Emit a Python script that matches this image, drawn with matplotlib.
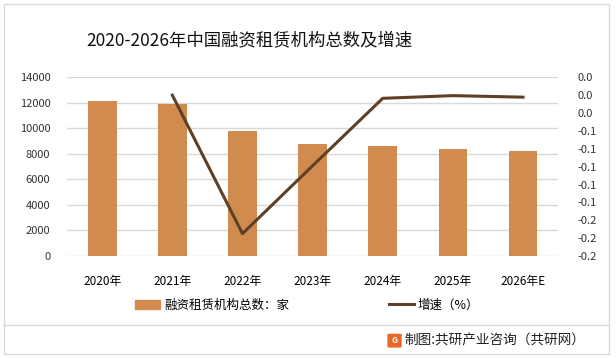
import numpy as np
import matplotlib.pyplot as plt
from matplotlib.patches import Rectangle, FancyBboxPatch
from matplotlib.lines import Line2D
from matplotlib.ticker import FuncFormatter, MultipleLocator

plt.rcParams['font.family'] = ['Noto Sans CJK SC', 'DejaVu Sans']

years = ["2020年", "2021年", "2022年", "2023年", "2024年", "2025年", "2026年E"]
counts = [12140, 11930, 9790, 8780, 8620, 8385, 8225]
growth = [None, -0.020, -0.175, -0.099, -0.0235, -0.0205, -0.0222]

bar_color = "#D28B4E"
line_color = "#5E4028"
grid_color = "#D9D9D9"

fig = plt.figure(figsize=(6.16, 3.58), dpi=100)
ax = fig.add_axes([0.109, 0.285, 0.797, 0.499])

x = np.arange(len(years))
ax.bar(x, counts, width=0.41, color=bar_color, zorder=2)
ax.set_xlim(-0.5, len(years) - 0.5)
ax.set_ylim(0, 14000)
ax.yaxis.set_major_locator(MultipleLocator(2000))
ax.grid(axis="y", color=grid_color, linewidth=1, zorder=0)
ax.set_xticks(x)
ax.set_xticklabels(years, fontsize=8.5)
ax.tick_params(axis="x", length=0, pad=14)
ax.tick_params(axis="y", length=0, pad=12, labelsize=8, labelcolor="#333333")
for s in ax.spines.values():
    s.set_visible(False)

ax2 = ax.twinx()
gx = [i for i, g in enumerate(growth) if g is not None]
gy = [g for g in growth if g is not None]
ax2.plot(gx, gy, color=line_color, linewidth=2.2, zorder=3)
ax2.set_ylim(-0.2, 0.0)
ax2.yaxis.set_major_locator(MultipleLocator(0.02))


def fmt(v, pos):
    s = "%.1f" % v
    return "0.0" if s == "-0.0" else s


ax2.yaxis.set_major_formatter(FuncFormatter(fmt))
ax2.tick_params(axis="y", length=0, pad=14, labelsize=8, labelcolor="#333333")
for s in ax2.spines.values():
    s.set_visible(False)

fig.text(0.405, 0.888, "2020-2026年中国融资租赁机构总数及增速", ha="center", va="center",
         fontsize=12.5, color="#111111")

# legend
handles = [Rectangle((0, 0), 1, 1, color=bar_color),
           Line2D([0], [0], color=line_color, linewidth=2.2)]
fig.legend(handles, ["融资租赁机构总数：家", "增速（%）"], loc="center",
           bbox_to_anchor=(0.499, 0.148), ncol=2, frameon=False, fontsize=9,
           columnspacing=8.0, handlelength=2.0, handletextpad=0.3)

# footer
fig.add_artist(Line2D([0.007, 0.988], [0.092, 0.092], color="#D9D9D9", linewidth=1))
fig.add_artist(Rectangle((0.007, 0.012), 0.982, 0.977, fill=False,
                         edgecolor="#D9D9D9", linewidth=1))
fig.add_artist(FancyBboxPatch((0.632, 0.033), 0.017, 0.031,
                              boxstyle="round,pad=0.002", color="#E8682A"))
fig.text(0.6405, 0.049, "G", color="white", fontsize=6, fontweight="bold",
         ha="center", va="center")
fig.text(0.657, 0.049, "制图:共研产业咨询（共研网）", fontsize=9.8, color="#222222",
         ha="left", va="center")

fig.savefig("out.png", dpi=100)
